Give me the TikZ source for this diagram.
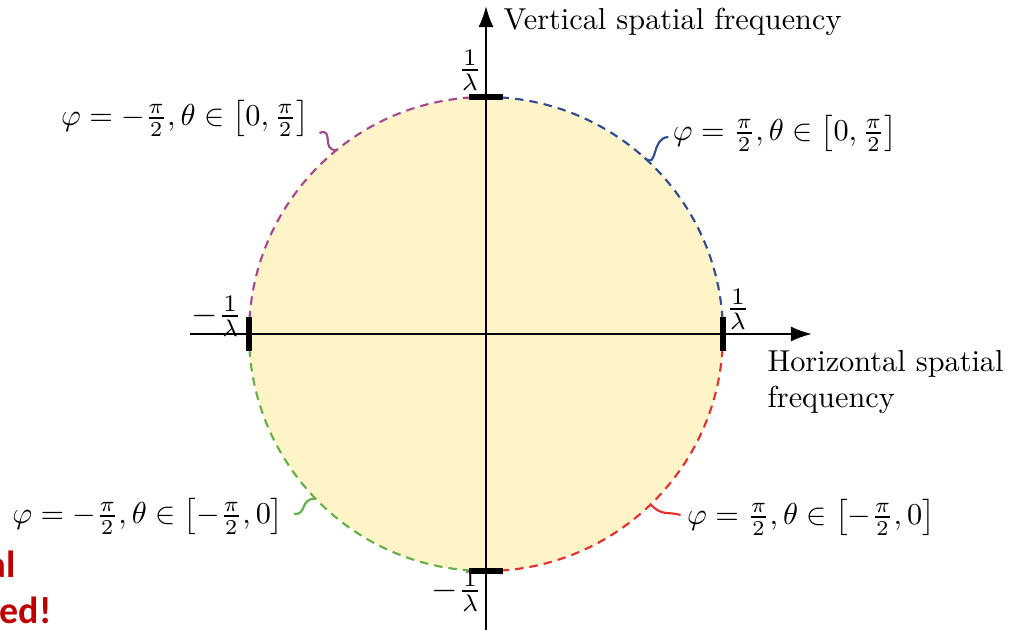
\documentclass[tikz,border=0pt]{standalone}
\usepackage{amsmath}
\usepackage{fontspec}
\newfontfamily\redfont{Carlito}
\usetikzlibrary{arrows.meta}
\definecolor{fillyellow}{HTML}{FFF4C8}
\definecolor{arcmag}{HTML}{A8468F}
\definecolor{arcblue}{HTML}{2F4B95}
\definecolor{arcgreen}{HTML}{62B046}
\definecolor{arcred}{HTML}{E4302C}
\definecolor{slidered}{HTML}{C00000}
\begin{document}
\begin{tikzpicture}[x=0.33pt,y=-0.33pt,
  axis/.style={line width=0.7pt,-{Latex[length=7pt,width=5pt]}},
  tickbar/.style={line width=1.7pt},
  arcline/.style={line width=0.7pt,dash pattern=on 2.8pt off 2pt},
  conn/.style={line width=0.7pt},
  lab/.style={inner sep=0pt},
  ticklab/.style={inner sep=0pt,scale=1.12},
  redtxt/.style={inner sep=0pt,text=slidered,font=\redfont\bfseries\fontsize{12.5}{14}\selectfont}]
\def\R{78.21pt}
\useasboundingbox (0,0) rectangle (1010,630);
\coordinate (c) at (486,334);
\coordinate (top) at (486,97);
\coordinate (bot) at (486,571);
\coordinate (lft) at (249,334);
\coordinate (rgt) at (723,334);
% disc
\fill[fillyellow] (c) circle[radius=\R];
% arcs
\draw[arcline,arcblue] (top) arc[start angle=90,end angle=0,radius=\R];
\draw[arcline,arcmag] (top) arc[start angle=90,end angle=180,radius=\R];
\draw[arcline,arcgreen] (lft) arc[start angle=180,end angle=270,radius=\R];
\draw[arcline,arcred] (bot) arc[start angle=270,end angle=360,radius=\R];
% axes
\coordinate (xs) at (190,334);
\coordinate (xe) at (812,334);
\coordinate (ys) at (486,640);
\coordinate (ye) at (486,6);
\draw[axis] (xs) -- (xe);
\draw[axis] (ys) -- (ye);
% ticks
\draw[tickbar] ([shift={(-17,0)}]top) -- ([shift={(17,0)}]top);
\draw[tickbar] ([shift={(-17,0)}]bot) -- ([shift={(17,0)}]bot);
\draw[tickbar] ([shift={(0,-17)}]lft) -- ([shift={(0,17)}]lft);
\draw[tickbar] ([shift={(0,-17)}]rgt) -- ([shift={(0,17)}]rgt);
% tick labels
\node[ticklab] (ttop) at (470,70) {$\frac{1}{\lambda}$};
\node[ticklab] (tbot) at (457,591) {$-\frac{1}{\lambda}$};
\node[ticklab] (tlft) at (217,316) {$-\frac{1}{\lambda}$};
\node[ticklab] (trgt) at (738,309) {$\frac{1}{\lambda}$};
% axis labels
\node[lab,anchor=west] (vlab) at (503,22) {Vertical spatial frequency};
\node[lab,anchor=north west,align=left] (hlab) at (767,350) {Horizontal spatial\\frequency};
% region labels
\node[lab] (lTL) at (185,118) {$\varphi=-\frac{\pi}{2},\theta\in\left[0,\frac{\pi}{2}\right]$};
\node[lab] (lTR) at (785,133) {$\varphi=\frac{\pi}{2},\theta\in\left[0,\frac{\pi}{2}\right]$};
\node[lab] (lBL) at (148,516) {$\varphi=-\frac{\pi}{2},\theta\in\left[-\frac{\pi}{2},0\right]$};
\node[lab] (lBR) at (811,517) {$\varphi=\frac{\pi}{2},\theta\in\left[-\frac{\pi}{2},0\right]$};
% points on circle
\path (c) ++(129:\R) coordinate (pTL);
\path (c) ++(48:\R) coordinate (pTR);
\path (c) ++(224:\R) coordinate (pBL);
\path (c) ++(314:\R) coordinate (pBR);
% connectors
\draw[conn,arcmag] ([shift={(10,15)}]lTL.east) .. controls +(15,-6) and +(-16,2) .. (pTL);
\draw[conn,arcblue] (pTR) .. controls +(14,12) and +(-18,1) .. ([shift={(-4,4)}]lTR.west);
\draw[conn,arcgreen] ([shift={(10,-2)}]lBL.east) .. controls +(13,1) and +(-16,0) .. (pBL);
\draw[conn,arcred] (pBR) .. controls +(12,12) and +(-15,-4) .. ([shift={(-6,-2)}]lBR.west);
% cut-off slide text
\node[redtxt,anchor=base east] (r1) at (16,578) {al};
\node[redtxt,anchor=base east] (r2) at (52,624) {ed!};
\end{tikzpicture}
\end{document}
